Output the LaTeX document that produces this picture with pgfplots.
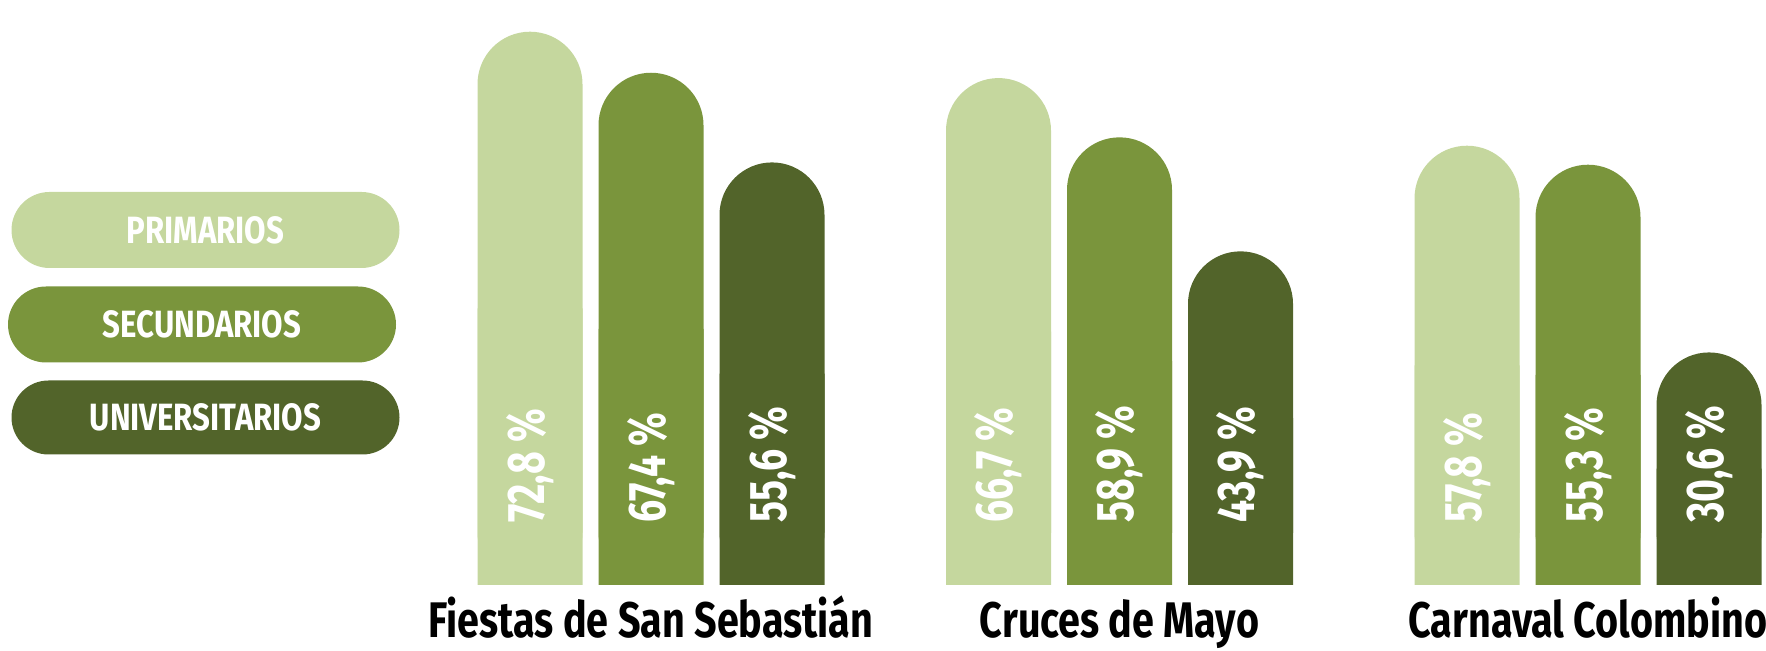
\documentclass[border=0pt]{standalone}
\usepackage{pgfplots}
\pgfplotsset{compat=1.18}
\usepackage{pgfplotstable}
\usepackage{fontspec}
\setmainfont{Fira Sans}[FakeStretch=0.74]
\newfontfamily\legfont{Fira Sans}[FakeStretch=0.82]
\newfontfamily\catfont{Fira Sans}[FakeStretch=0.79]
\definecolor{c1}{HTML}{C5D79E}
\definecolor{c2}{HTML}{7A953C}
\definecolor{c3}{HTML}{52642A}
\pgfplotstableread{
x prim sec univ
0 72.8 67.4 55.6
1 66.7 58.9 43.9
2 57.8 55.3 30.6
}\datatable
\begin{document}
\begin{tikzpicture}
\useasboundingbox (0,0) rectangle (883pt,325.5pt);
% legend pills
\node[fill=c1, rounded corners=19pt, minimum width=194pt, minimum height=38pt, inner sep=0pt, text=white, font=\legfont\fontsize{19}{22}\selectfont\bfseries] at (102.75pt,210.5pt) {PRIMARIOS};
\node[fill=c2, rounded corners=19pt, minimum width=194pt, minimum height=38pt, inner sep=0pt, text=white, font=\legfont\fontsize{19}{22}\selectfont\bfseries] at (101pt,163.25pt) {SECUNDARIOS};
\node[fill=c3, rounded corners=18.5pt, minimum width=194pt, minimum height=37pt, inner sep=0pt, text=white, font=\legfont\fontsize{19}{22}\selectfont\bfseries] at (102.75pt,116.75pt) {UNIVERSITARIOS};
\begin{axis}[
  at={(208.375pt,33pt)}, anchor=south west,
  scale only axis,
  x=234.25pt, y=3.8pt,
  xmin=-0.5, xmax=2.35, ymin=0, ymax=76,
  clip=false,
  axis line style={draw=none},
  tick style={draw=none},
  ytick=\empty,
  xtick={0,1,2},
  xticklabels={Fiestas de San Sebastián, Cruces de Mayo, Carnaval Colombino},
  xticklabel style={anchor=base, yshift=-26.5pt, inner sep=0pt, font=\catfont\fontsize{25}{28}\selectfont\bfseries, text=black},
  /pgf/number format/.cd, use comma, fixed, fixed zerofill, precision=1, assume math mode=true,
  /pgfplots/.cd,
  visualization depends on={y \as \rawy},
  labelstyle/.style={
    nodes near coords={\pgfmathprintnumber{\pgfplotspointmeta}~\%},
    every node near coord/.append style={shift={(axis direction cs:0,-\rawy)}, xshift=#1, yshift=31pt, rotate=90, anchor=west, inner sep=0pt, text=white, font=\fontsize{26.5}{30}\selectfont\bfseries},
  },
]
% square bottoms
\addplot[ybar, bar width=52.5pt, bar shift=-60.5pt, fill=c1, draw=none, y filter/.expression={y/2}] table[x=x,y=prim]{\datatable};
\addplot[ybar, bar width=52.5pt, bar shift=0pt, fill=c2, draw=none, y filter/.expression={y/2}] table[x=x,y=sec]{\datatable};
\addplot[ybar, bar width=52.5pt, bar shift=60.5pt, fill=c3, draw=none, y filter/.expression={y/2}] table[x=x,y=univ]{\datatable};
% rounded bars with labels
\addplot[ybar, bar width=52.5pt, bar shift=-60.5pt, fill=c1, draw=none, rounded corners=26.25pt, labelstyle=-60.5pt] table[x=x,y=prim]{\datatable};
\addplot[ybar, bar width=52.5pt, bar shift=0pt, fill=c2, draw=none, rounded corners=26.25pt, labelstyle=0pt] table[x=x,y=sec]{\datatable};
\addplot[ybar, bar width=52.5pt, bar shift=60.5pt, fill=c3, draw=none, rounded corners=26.25pt, labelstyle=60.5pt] table[x=x,y=univ]{\datatable};
\end{axis}
\end{tikzpicture}
\end{document}
